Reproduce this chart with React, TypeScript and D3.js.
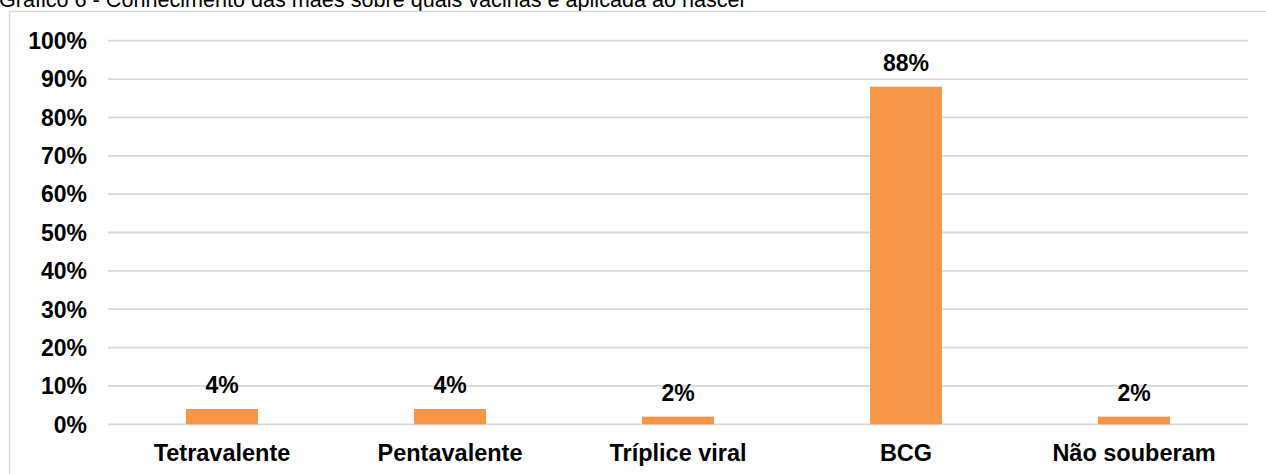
import React from "react";
import * as d3 from "d3";

const categories = ["Tetravalente", "Pentavalente", "Tríplice viral", "BCG", "Não souberam"];
const percentValues = [4, 4, 2, 88, 2];
const yTicks = [0, 10, 20, 30, 40, 50, 60, 70, 80, 90, 100];
const titleText = "Gráfico 6 - Conhecimento das mães sobre quais vacinas é aplicada ao nascer";

const W = 1266;
const H = 474;
const FONT = "'Liberation Sans', Arial, Helvetica, sans-serif";

export default function App() {
  const plotLeft = 108;
  const plotRight = 1248;
  const plotTop = 40.7;
  const plotBottom = 424.3;

  const x = d3
    .scaleBand<string>()
    .domain(categories)
    .range([plotLeft, plotRight])
    .paddingInner(0.684)
    .paddingOuter(0.342);

  const y = d3.scaleLinear().domain([0, 100]).range([plotBottom, plotTop]);

  return (
    <svg
      width={W}
      height={H}
      viewBox={`0 0 ${W} ${H}`}
      style={{ position: "absolute", left: 0, top: 0, background: "#ffffff" }}
    >
      <rect x={0} y={0} width={W} height={H} fill="#ffffff" />
      {/* title, partly above the visible area */}
      <text x={-1} y={7} fontFamily={FONT} fontSize={21.6} fill="#000000">
        {titleText}
      </text>
      {/* chart frame */}
      <rect
        x={9.5}
        y={11.5}
        width={W + 20}
        height={H + 20}
        fill="#ffffff"
        stroke="#d9d9d9"
        strokeWidth={1.3}
      />
      {/* gridlines */}
      {yTicks.map((t) => (
        <line
          key={`g${t}`}
          x1={plotLeft}
          x2={plotRight}
          y1={y(t)}
          y2={y(t)}
          stroke="#d9d9d9"
          strokeWidth={1.8}
        />
      ))}
      {/* y tick labels */}
      {yTicks.map((t) => (
        <text
          key={`t${t}`}
          x={87}
          y={y(t)}
          dy="0.36em"
          textAnchor="end"
          fontFamily={FONT}
          fontWeight="bold"
          fontSize={23}
          fill="#000000"
        >
          {`${t}%`}
        </text>
      ))}
      {/* bars */}
      {categories.map((c, i) => (
        <rect
          key={`b${c}`}
          x={x(c)}
          y={y(percentValues[i])}
          width={x.bandwidth()}
          height={plotBottom - y(percentValues[i])}
          fill="#F79646"
        />
      ))}
      {/* value labels */}
      {categories.map((c, i) => (
        <text
          key={`v${c}`}
          x={(x(c) as number) + x.bandwidth() / 2}
          y={y(percentValues[i]) - 16}
          textAnchor="middle"
          fontFamily={FONT}
          fontWeight="bold"
          fontSize={23}
          fill="#000000"
        >
          {`${percentValues[i]}%`}
        </text>
      ))}
      {/* category labels */}
      {categories.map((c) => (
        <text
          key={`c${c}`}
          x={(x(c) as number) + x.bandwidth() / 2}
          y={461}
          textAnchor="middle"
          fontFamily={FONT}
          fontWeight="bold"
          fontSize={23.5}
          fill="#000000"
        >
          {c}
        </text>
      ))}
    </svg>
  );
}
